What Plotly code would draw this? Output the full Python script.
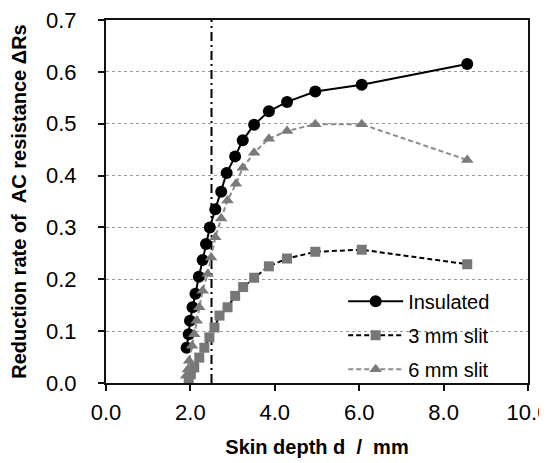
import plotly.graph_objects as go

# ---- data ----
ins_x = [1.91, 1.96, 1.99, 2.05, 2.12, 2.20, 2.29, 2.37, 2.46, 2.59, 2.73, 2.86, 3.06, 3.24, 3.51, 3.86, 4.29, 4.96, 6.06, 8.56]
ins_y = [0.068, 0.094, 0.120, 0.146, 0.172, 0.205, 0.237, 0.268, 0.300, 0.335, 0.369, 0.405, 0.437, 0.468, 0.498, 0.524, 0.542, 0.562, 0.575, 0.615]

s3_x = [1.96, 2.01, 2.09, 2.21, 2.33, 2.45, 2.57, 2.69, 2.88, 3.06, 3.25, 3.51, 3.86, 4.29, 4.96, 6.06, 8.56]
s3_y = [0.004, 0.017, 0.030, 0.049, 0.068, 0.088, 0.107, 0.130, 0.146, 0.168, 0.185, 0.203, 0.225, 0.240, 0.253, 0.257, 0.229]

s6_x = [1.90, 1.94, 1.97, 2.04, 2.09, 2.15, 2.21, 2.29, 2.41, 2.49, 2.59, 2.73, 2.88, 3.08, 3.24, 3.51, 3.86, 4.29, 4.96, 6.06, 8.56]
s6_y = [0.014, 0.026, 0.043, 0.072, 0.094, 0.120, 0.146, 0.178, 0.210, 0.242, 0.281, 0.317, 0.352, 0.384, 0.415, 0.444, 0.471, 0.486, 0.499, 0.499, 0.430]

ref_depth = 2.5
y_span = [0.0, 0.7]

x_ticks = [0, 2, 4, 6, 8, 10]
y_ticks = [0, 0.1, 0.2, 0.3, 0.4, 0.5, 0.6, 0.7]

FONT = "Arial, 'Liberation Sans', sans-serif"

fig = go.Figure()

fig.add_trace(go.Scatter(
    x=[ref_depth, ref_depth], y=y_span, mode="lines",
    line=dict(color="black", width=2, dash="9px,4px,2px,4px"),
    showlegend=False, hoverinfo="skip"))

fig.add_trace(go.Scatter(
    x=ins_x, y=ins_y, name="Insulated", mode="lines+markers", legendgroup="a",
    line=dict(color="black", width=2),
    marker=dict(symbol="circle", size=12, color="black")))

fig.add_trace(go.Scatter(
    x=s3_x, y=s3_y, name="3 mm slit", mode="lines+markers", legendgroup="b",
    line=dict(color="black", width=2, dash="5px,3px"),
    marker=dict(symbol="square", size=10, color="#777777")))

fig.add_trace(go.Scatter(
    x=s6_x, y=s6_y, name="6 mm slit", mode="lines+markers", legendgroup="c",
    line=dict(color="#8c8c8c", width=2, dash="5px,3px"),
    marker=dict(symbol="triangle-up", size=11, color="#7a7a7a")))

# white patch behind legend hiding the grid line (as in the reference)
fig.add_shape(type="rect", xref="paper", yref="paper",
              x0=0.488, x1=0.96, y0=0.02, y1=0.27,
              fillcolor="white", line=dict(width=0), layer="between")

fig.update_layout(
    width=539, height=455,
    margin=dict(l=98, r=19, t=12, b=80, autoexpand=False),
    paper_bgcolor="white", plot_bgcolor="white",
    font=dict(family=FONT, size=20, color="black"),
    showlegend=True,
    legend=dict(x=0.562, y=0.279, xanchor="left", yanchor="top",
                bgcolor="rgba(255,255,255,0)", font=dict(size=20),
                itemwidth=55, tracegroupgap=5, traceorder="grouped"),
    xaxis=dict(range=[0, 10], tickvals=x_ticks, tickformat=".1f",
               tickfont=dict(size=22), ticklabeloverflow="allow", automargin=False,
               showgrid=False, zeroline=False,
               showline=True, linecolor="#111111", linewidth=2, mirror=True,
               ticks="outside", ticklen=6, tickwidth=2, tickcolor="#111111",
               ticklabelstandoff=3,
               title=dict(text="Skin depth d\u00a0\u00a0/\u00a0\u00a0mm",
                          font=dict(size=20, family=FONT, weight="bold"), standoff=16)),
    yaxis=dict(range=[0, 0.7], tickvals=y_ticks, tickformat=".1f",
               tickfont=dict(size=22), automargin=False, ticklabeloverflow="allow",
               showgrid=True, gridcolor="#999999", griddash="dot", gridwidth=1,
               zeroline=False,
               showline=True, linecolor="#111111", linewidth=2, mirror=True,
               ticks="outside", ticklen=6, tickwidth=2, tickcolor="#111111",
               ticklabelstandoff=17,
               title=dict(text="Reduction rate of\u00a0\u00a0AC resistance \u0394Rs",
                          font=dict(size=20, family=FONT, weight="bold"), standoff=16)),
)

fig.write_html("out.html")
